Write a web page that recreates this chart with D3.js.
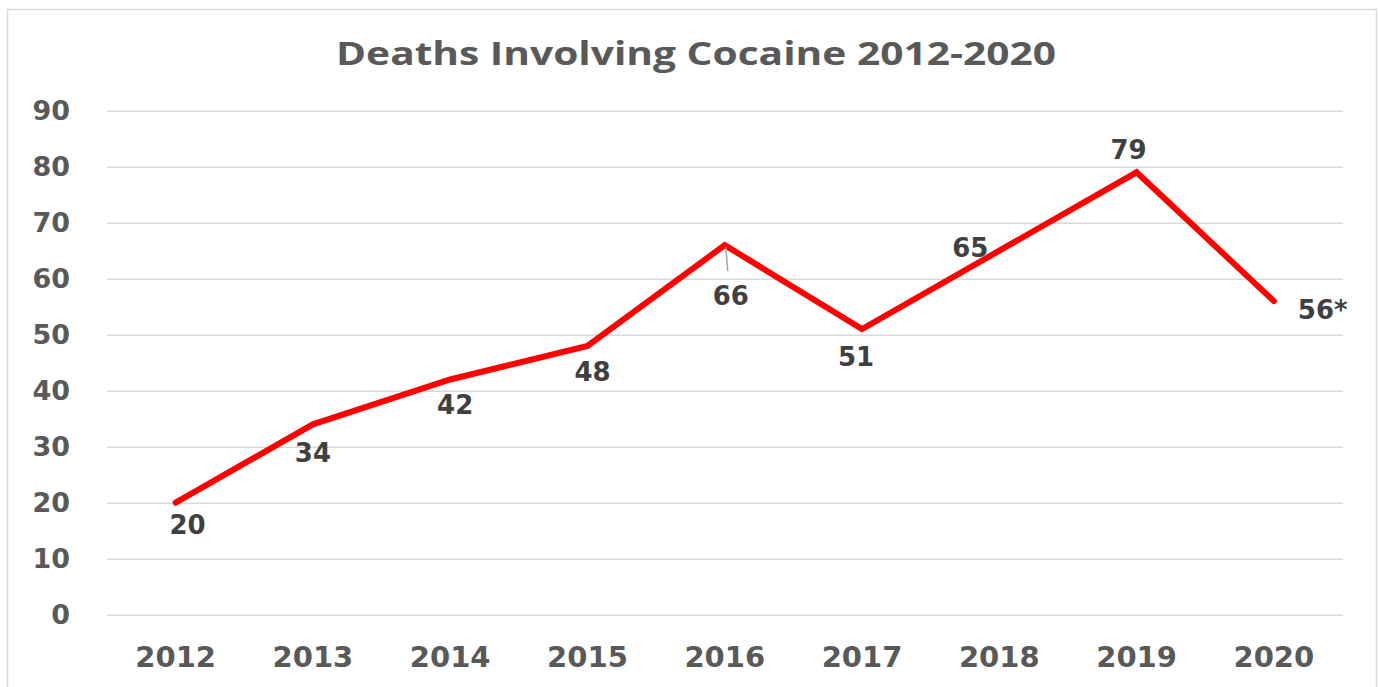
<!DOCTYPE html>
<html>
<head>
<meta charset="utf-8">
<script src="https://cdn.jsdelivr.net/npm/d3@7/dist/d3.min.js"></script>
<style>
  html, body { margin: 0; padding: 0; background: #fff; }
  svg { display: block; }
</style>
</head>
<body>
<svg id="chart" width="1380" height="687"></svg>
<script>
// ---- data ----
const years = ["2012", "2013", "2014", "2015", "2016", "2017", "2018", "2019", "2020"];
const deaths = [20, 34, 42, 48, 66, 51, 65, 79, 56];
const dataLabels = ["20", "34", "42", "48", "66", "51", "65", "79", "56*"];
const yTicks = [0, 10, 20, 30, 40, 50, 60, 70, 80, 90];
const title = "Deaths Involving Cocaine 2012-2020";

// ---- layout (label placement, separate from data) ----
const labelOffsets = [
  [12, 22], [0, 29], [5, 25], [5, 26], [6, 51], [-6, 28], [-29, -3], [-8, -22], [24, 9]
];
const labelAnchors = ["middle","middle","middle","middle","middle","middle","middle","middle","start"];

const svg = d3.select("#chart");
const W = 1380, H = 687;
const margin = { left: 107, right: 1380 - 1342.5, top: 110.7, bottom: 687 - 614.7 };

svg.append("rect")
  .attr("x", 7.5).attr("y", 9.5)
  .attr("width", 1369).attr("height", 700)
  .attr("fill", "#fff").attr("stroke", "#d9d9d9").attr("stroke-width", 1.5);

const x = d3.scaleBand().domain(years).range([margin.left, W - margin.right]).padding(0);
const y = d3.scaleLinear().domain([0, 90]).range([H - margin.bottom, margin.top]);

// title
svg.append("text")
  .attr("x", 696).attr("y", 65)
  .attr("text-anchor", "middle")
  .attr("font-family", "'Open Sans', Lato, sans-serif")
  .attr("font-weight", "bold")
  .attr("font-size", 32)
  .attr("textLength", 720)
  .attr("lengthAdjust", "spacingAndGlyphs")
  .attr("fill", "#595959")
  .text(title);

// gridlines
const grid = d3.axisLeft(y).tickValues(yTicks).tickSize(-(W - margin.left - margin.right)).tickFormat("");
svg.append("g")
  .attr("transform", `translate(${margin.left},0)`)
  .call(grid)
  .call(g => g.select(".domain").remove())
  .call(g => g.selectAll("line").attr("stroke", "#d9d9d9").attr("stroke-width", 1.5));

// y axis labels
const yAxis = d3.axisLeft(y).tickValues(yTicks).tickSize(0).tickPadding(0);
svg.append("g")
  .attr("transform", `translate(70,0)`)
  .call(yAxis)
  .call(g => g.select(".domain").remove())
  .call(g => g.selectAll("text")
    .attr("font-family", "'DejaVu Sans', Verdana, sans-serif")
    .attr("font-weight", "bold")
    .attr("font-size", 27)
    .attr("fill", "#595959"));

// x axis labels
const xAxis = d3.axisBottom(x).tickSize(0).tickPadding(0);
svg.append("g")
  .attr("transform", `translate(0,${H - margin.bottom + 44})`)
  .call(xAxis)
  .call(g => g.select(".domain").remove())
  .call(g => g.selectAll("text")
    .attr("dy", "0")
    .attr("dominant-baseline", "middle")
    .attr("font-family", "'DejaVu Sans', Verdana, sans-serif")
    .attr("font-weight", "bold")
    .attr("font-size", 29)
    .attr("fill", "#595959"));

// line
const pts = years.map((yr, i) => ({ yr, v: deaths[i], label: dataLabels[i], i }));
const line = d3.line().x(d => x(d.yr) + x.bandwidth() / 2).y(d => y(d.v));
svg.append("path")
  .datum(pts)
  .attr("d", line)
  .attr("fill", "none")
  .attr("stroke", "#ff0000")
  .attr("stroke-width", 6)
  .attr("stroke-linejoin", "miter")
  .attr("stroke-linecap", "round");

// leader line for 2016
const p16 = pts[4];
svg.append("line")
  .attr("x1", x(p16.yr) + x.bandwidth() / 2 + 1).attr("y1", y(p16.v) + 2)
  .attr("x2", x(p16.yr) + x.bandwidth() / 2 + 3).attr("y2", y(p16.v) + 26)
  .attr("stroke", "#a6a6a6").attr("stroke-width", 1.5);

// data labels
svg.append("g").selectAll("text")
  .data(pts)
  .join("text")
  .attr("x", d => x(d.yr) + x.bandwidth() / 2 + labelOffsets[d.i][0])
  .attr("y", d => y(d.v) + labelOffsets[d.i][1])
  .attr("text-anchor", d => labelAnchors[d.i])
  .attr("dominant-baseline", "central")
  .attr("font-family", "'DejaVu Sans', Verdana, sans-serif")
  .attr("font-weight", "bold")
  .attr("font-size", 26)
  .attr("fill", "#404040")
  .text(d => d.label);
</script>
</body>
</html>
